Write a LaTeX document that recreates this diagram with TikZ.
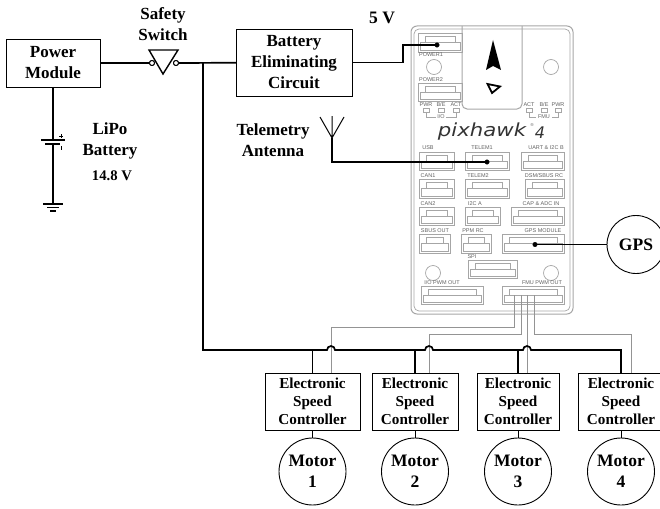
\documentclass[tikz,border=0pt]{standalone}
\usepackage{fontspec}
\setmainfont{Liberation Serif}
\setsansfont{Liberation Sans}
\usetikzlibrary{positioning}
% one connector socket of the flight controller
\newcommand{\socket}[4]{%
  \draw[board] (#1,#2) rectangle (#3,#4);
  \draw[board] (#1+2,#4-2) -- (#1+2,#2+9) -- (#1+7,#2+9) -- (#1+7,#2+3) -- (#3-7,#2+3) -- (#3-7,#2+9) -- (#3-2,#2+9) -- (#3-2,#4-2) -- cycle;
  \draw[board] (#1+7,#2+9) -- (#3-7,#2+9);
}
\begin{document}
\begin{tikzpicture}[x=1pt, y=-1pt,
  board/.style={draw=black!35, line width=0.7pt},
  boardtext/.style={text=black!62, font=\sffamily\fontsize{5.5}{6}\selectfont, inner sep=0pt},
  block/.style={draw, line width=0.9pt, outer sep=0pt, align=center, font=\bfseries\fontsize{17}{21}\selectfont, inner sep=0pt},
  escbox/.style={draw, line width=0.9pt, outer sep=0pt, align=center, font=\bfseries\fontsize{15.2}{18}\selectfont, inner sep=0pt, minimum height=57pt},
  motor/.style={draw, circle, line width=0.9pt, outer sep=0pt, align=center, font=\bfseries\fontsize{17.5}{21}\selectfont, inner sep=0pt, minimum size=67pt},
  label/.style={align=center, font=\bfseries\fontsize{17}{21}\selectfont, inner sep=0pt},
  bus/.style={line width=1.7pt},
  signal/.style={draw=black!42, line width=1pt},
  pinout/.style={draw, circle, fill, inner sep=0pt, minimum size=4.5pt},
  contact/.style={draw, circle, line width=0.9pt, fill=white, inner sep=0pt, minimum size=5pt}]
\useasboundingbox (0,0) rectangle (660,508);

% flight controller
\draw[board, line width=1pt, rounded corners=6pt] (411,26) rectangle (573,314);
\draw[board, rounded corners=5pt] (414,29) rectangle (570,311);
\draw[board, line width=1pt, rounded corners=5pt] (462,26) -- (462,109) -- (522,109) -- (522,26);
\fill[black] (493,40) -- (501,70) -- (493,66) -- (486,70) -- cycle;
\draw[line width=1.8pt] (487.5,84) -- (500,86.5) -- (492,93) -- cycle;
\foreach \hx/\hy in {434/67, 551/67, 433/273, 551/273}
  \draw[board] (\hx,\hy) circle[radius=7.5];
\socket{418}{33}{462}{52}
\socket{418}{83}{462}{101}
\socket{419}{152}{454}{170}
\socket{465}{152}{509}{170}
\socket{521}{152}{564}{170}
\socket{419}{179}{454}{198}
\socket{465}{179}{509}{198}
\socket{525}{179}{564}{198}
\socket{419}{207}{454}{225}
\socket{465}{207}{500}{225}
\socket{511}{207}{564}{225}
\socket{419}{234}{450}{253}
\socket{461}{234}{491}{253}
\socket{502}{234}{564}{253}
\socket{468}{260}{517}{278}
\socket{421}{286}{483}{304}
\socket{502}{286}{564}{304}
\foreach \bx/\by/\btext in {431/55/POWER1, 431/80/POWER2, 426/105/PWR, 441/105/B\slash E, 456/105/ACT,
    529/105/ACT, 544/105/B\slash E, 558/105/PWR, 428/148/USB, 482/148/TELEM1, 546/148/UART \& I2C B,
    428/176/CAN1, 478/176/TELEM2, 544/176/DSM\slash SBUS RC, 428/204/CAN2, 475/204/I2C A, 541/204/CAP \& ADC IN,
    435/231/SBUS OUT, 473/231/PPM RC, 543/231/GPS MODULE, 472/257/SPI, 442/283/I\slash O PWM OUT, 542/283/FMU PWM OUT}
  \node[boardtext] at (\bx,\by) {\btext};
\foreach \lx in {426, 441, 456, 529, 544, 558}
  \draw[board] (\lx-3,108) rectangle (\lx+3,112);
\draw[board] (426,113) |- (436,117) (446,117) -| (456,113);
\draw[board] (529,113) |- (536,117) (552,117) -| (558,113);
\node[boardtext] at (441,117) {I\slash O};
\node[boardtext] at (544,117) {FMU};
\node[inner sep=0pt, xscale=1.18, font=\fontspec{DejaVu Sans}\itshape\fontsize{18}{18}\selectfont, text=black!80] at (482,132) {pixhawk};
\node[inner sep=0pt, font=\fontspec{DejaVu Sans}\itshape\fontsize{16}{16}\selectfont, text=black!80] at (540,133) {4};
\node[boardtext, font=\fontspec{DejaVu Sans}\fontsize{4}{4}\selectfont] at (532,125) {®};

% blocks
\node[block, minimum width=94pt, minimum height=48pt] (pm) at (53,63) {Power\\Module};
\node[block, minimum width=116pt, minimum height=67pt] (bec) at (294,62.5) {Battery\\Eliminating\\Circuit};
\node[escbox, minimum width=95pt] (esc1) at (312.5,401.5) {Electronic\\Speed\\Controller};
\node[escbox, minimum width=86pt, right=12pt of esc1] (esc2) {Electronic\\Speed\\Controller};
\node[escbox, minimum width=82pt, right=19pt of esc2] (esc3) {Electronic\\Speed\\Controller};
\node[escbox, minimum width=86pt, right=19pt of esc3] (esc4) {Electronic\\Speed\\Controller};
\node[motor, below=8pt of esc1] (mot1) {Motor\\1};
\node[motor, below=8pt of esc2] (mot2) {Motor\\2};
\node[motor, below=8pt of esc3] (mot3) {Motor\\3};
\node[motor, below=8pt of esc4] (mot4) {Motor\\4};
\node[motor, minimum size=58pt] (gps) at (636,244.5) {GPS};

% labels
\node[label] at (163,24) {Safety\\Switch};
\node[label] at (110,140.5) {LiPo\\Battery};
\node[label, font=\bfseries\fontsize{14.7}{18}\selectfont] at (112,176) {14.8 V};
\node[label, font=\bfseries\fontsize{17.5}{21}\selectfont] at (382,18) {5 V};
\node[label] (telem) at (273,140) {Telemetry\\Antenna};

% pins on the controller
\node[pinout] (pin5v) at (437,45) {};
\node[pinout] (pintel) at (487,162) {};
\node[pinout] (pingps) at (535,244.5) {};
\coordinate (fmu1) at (514,295);
\coordinate (fmu2) at (521,295);
\coordinate (fmu3) at (527,295);
\coordinate (fmu4) at (534,295);

% safety switch
\node[contact] (swl) at (152,63) {};
\node[contact] (swr) at (176,63) {};
\draw[line width=1.4pt] (149,50) -- (178,50) -- (163,74) -- cycle;
\node[contact] at (152,63) {};
\node[contact] at (176,63) {};
\draw[bus] (pm) -- (swl);
\draw[bus] (swr) -- (bec);
\draw[bus] (bec.east) -- ++(51,0) |- (pin5v);

% battery
\coordinate (plus) at (53,140);
\coordinate (minus) at (53,144);
\coordinate (gnd) at (53,204);
\draw[line width=1.1pt] (pm) -- (plus);
\draw[line width=1.1pt] (minus) -- (gnd);
\draw[line width=1.1pt] (41,140) -- (65,140);
\draw[line width=1.1pt] (45,144) -- (60,144);
\draw[line width=0.7pt] (59,136) -- (63,136) (61,134) -- (61,138) (61,146) -- (61,150);
\draw[line width=1.1pt] (43,204) -- (63,204) (47,207.5) -- (59,207.5) (50,211) -- (56,211);

% antenna
\coordinate (ant) at (332,138);
\draw[line width=1pt] (320,117) -- (ant) -- (344,117) (ant) -- (332,116);
\draw[bus, line width=1.4pt] (ant) |- (pintel);

% gps
\draw[line width=1pt] (pingps) -- (gps);

% pwm signal lines
\draw[signal] ([xshift=18.5pt]esc1.north) -- ++(0,-46) -| (fmu1);
\draw[signal] ([xshift=14pt]esc2.north) -- ++(0,-39) -| (fmu2);
\draw[signal] ([xshift=9pt]esc3.north) -- (fmu3);
\draw[signal] ([xshift=10pt]esc4.north) -- ++(0,-39) -| (fmu4);

% power bus
\coordinate (bustop) at (203,63);
\coordinate (buscorner) at (203,350);
\draw[bus] (bustop) -- (buscorner) -- (327,350) arc[start angle=180, end angle=0, radius=4pt]
  -- (425,350) arc[start angle=180, end angle=0, radius=4pt]
  -- (523,350) arc[start angle=180, end angle=0, radius=4pt]
  -- (esc4.north |- buscorner) -- (esc4.north);
\draw[bus] (esc1.north) -- (esc1.north |- buscorner);
\draw[bus] (esc2.north) -- (esc2.north |- buscorner);
\draw[bus] (esc3.north) -- (esc3.north |- buscorner);

% motors
\draw[line width=1pt] (esc1) -- (mot1);
\draw[line width=1pt] (esc2) -- (mot2);
\draw[line width=1pt] (esc3) -- (mot3);
\draw[line width=1pt] (esc4) -- (mot4);
\end{tikzpicture}
\end{document}
